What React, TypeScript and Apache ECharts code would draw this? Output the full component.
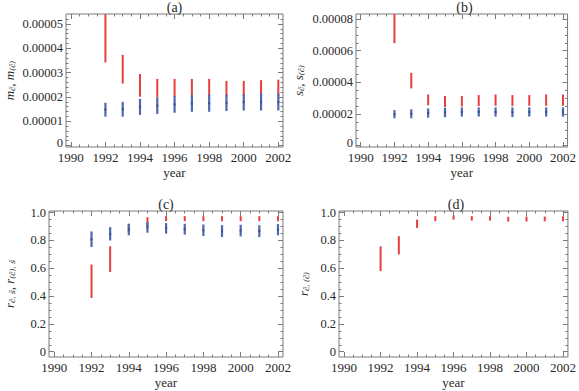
import { useEffect, useRef } from "react";
import * as echarts from "echarts";

// Survey years with an estimate interval per year
const years = [1992, 1993, 1994, 1995, 1996, 1997, 1998, 1999, 2000, 2001, 2002];

// (a) m_c~ (red) and m_(c~) (blue): lower / upper ends of each interval
const mRedLo = [3.42e-5, 2.55e-5, 2.01e-5, 2.0e-5, 2.01e-5, 2.04e-5, 2.04e-5, 2.04e-5, 2.04e-5, 2.04e-5, 2.04e-5];
const mRedHi = [5.6e-5, 3.73e-5, 2.94e-5, 2.74e-5, 2.74e-5, 2.74e-5, 2.74e-5, 2.66e-5, 2.66e-5, 2.69e-5, 2.71e-5];
const mBlueLo = [1.19e-5, 1.19e-5, 1.26e-5, 1.3e-5, 1.35e-5, 1.39e-5, 1.39e-5, 1.42e-5, 1.44e-5, 1.44e-5, 1.44e-5];
const mBlueHi = [1.76e-5, 1.8e-5, 1.92e-5, 1.99e-5, 2.04e-5, 2.08e-5, 2.1e-5, 2.1e-5, 2.12e-5, 2.14e-5, 2.14e-5];

// (b) s_c~ (red) and s_(c~) (blue)
const sRedLo = [6.48e-5, 3.62e-5, 2.55e-5, 2.44e-5, 2.48e-5, 2.5e-5, 2.52e-5, 2.5e-5, 2.52e-5, 2.52e-5, 2.52e-5];
const sRedHi = [8.6e-5, 4.6e-5, 3.24e-5, 3.14e-5, 3.14e-5, 3.2e-5, 3.24e-5, 3.2e-5, 3.2e-5, 3.24e-5, 3.24e-5];
const sBlueLo = [1.73e-5, 1.73e-5, 1.77e-5, 1.8e-5, 1.84e-5, 1.84e-5, 1.84e-5, 1.81e-5, 1.84e-5, 1.84e-5, 1.84e-5];
const sBlueHi = [2.25e-5, 2.3e-5, 2.36e-5, 2.4e-5, 2.42e-5, 2.42e-5, 2.42e-5, 2.42e-5, 2.42e-5, 2.42e-5, 2.42e-5];

// (c) r_c~,s~ (red) and r_(c~),s~ (blue)
const rcsRedLo = [0.387, 0.573, 0.86, 0.9, 0.939, 0.939, 0.939, 0.939, 0.939, 0.939, 0.939];
const rcsRedHi = [0.627, 0.758, 0.92, 0.968, 0.975, 0.975, 0.975, 0.975, 0.975, 0.975, 0.975];
const rcsBlueLo = [0.753, 0.8, 0.837, 0.856, 0.849, 0.842, 0.832, 0.825, 0.829, 0.825, 0.837];
const rcsBlueHi = [0.865, 0.896, 0.92, 0.932, 0.925, 0.92, 0.915, 0.91, 0.913, 0.91, 0.918];

// (d) r_c~,(c~)
const rccLo = [0.58, 0.7, 0.89, 0.939, 0.95, 0.943, 0.943, 0.936, 0.936, 0.938, 0.938];
const rccHi = [0.758, 0.831, 0.95, 0.975, 0.98, 0.975, 0.975, 0.97, 0.972, 0.972, 0.975];

// Axis ticks
const yearTicks = [1990, 1992, 1994, 1996, 1998, 2000, 2002];
const yearMinorTicks = [1990.5, 1991, 1991.5, 1992.5, 1993, 1993.5, 1994.5, 1995, 1995.5, 1996.5, 1997, 1997.5, 1998.5, 1999, 1999.5, 2000.5, 2001, 2001.5];
const mTicks = [0, 1e-5, 2e-5, 3e-5, 4e-5, 5e-5];
const mMinorTicks = [0.2e-5, 0.4e-5, 0.6e-5, 0.8e-5, 1.2e-5, 1.4e-5, 1.6e-5, 1.8e-5, 2.2e-5, 2.4e-5, 2.6e-5, 2.8e-5, 3.2e-5, 3.4e-5, 3.6e-5, 3.8e-5, 4.2e-5, 4.4e-5, 4.6e-5, 4.8e-5, 5.2e-5];
const sTicks = [0, 2e-5, 4e-5, 6e-5, 8e-5];
const sMinorTicks = [0.5e-5, 1e-5, 1.5e-5, 2.5e-5, 3e-5, 3.5e-5, 4.5e-5, 5e-5, 5.5e-5, 6.5e-5, 7e-5, 7.5e-5];
const rTicks = [0, 0.2, 0.4, 0.6, 0.8, 1.0];
const rMinorTicks = [0.05, 0.1, 0.15, 0.25, 0.3, 0.35, 0.45, 0.5, 0.55, 0.65, 0.7, 0.75, 0.85, 0.9, 0.95];

const SERIF = "Liberation Serif";
const SUB_SERIF = "DejaVu Serif";
const INK = "#2a2a2a";
const FRAME = "#7a7a7a";
const RED = "#e5403e";
const BLUE = "#5068b2";
const BLUE_DARK = "#3a4f90";

type Panel = {
  title: string;
  left: number;
  top: number;
  width: number;
  height: number;
  yMin: number;
  yMax: number;
  yTicks: number[];
  yMinor: number[];
  yFmt: (v: number) => string;
  yName: string;
  yNameGap: number;
};

// In the top row the zero label sits right above the first year label,
// so it is lifted a little through a padded rich style.
const panels: Panel[] = [
  {
    title: "(a)", left: 66, top: 14, width: 217, height: 133,
    yMin: -5.8e-7, yMax: 5.41e-5, yTicks: mTicks, yMinor: mMinorTicks,
    yFmt: (v) => (v === 0 ? "{z|0}" : v.toFixed(5)),
    yName: "{i|m}{s|c\u0303}{i|, m}{s|(c\u0303)}", yNameGap: 50,
  },
  {
    title: "(b)", left: 356, top: 14, width: 217, height: 133,
    yMin: -8.2e-7, yMax: 8.32e-5, yTicks: sTicks, yMinor: sMinorTicks,
    yFmt: (v) => (v === 0 ? "{z|0}" : v.toFixed(5)),
    yName: "{i|s}{s|c\u0303}{i|, s}{s|(c\u0303)}", yNameGap: 51,
  },
  {
    title: "(c)", left: 49, top: 211, width: 234, height: 146,
    yMin: -0.038, yMax: 1.012, yTicks: rTicks, yMinor: rMinorTicks,
    yFmt: (v) => (v === 0 ? "0" : v.toFixed(1)),
    yName: "{i|r}{s|c\u0303, s\u0303}{i|, r}{s|(c\u0303), s\u0303}", yNameGap: 33,
  },
  {
    title: "(d)", left: 339, top: 211, width: 234, height: 146,
    yMin: -0.038, yMax: 1.012, yTicks: rTicks, yMinor: rMinorTicks,
    yFmt: (v) => (v === 0 ? "0" : v.toFixed(1)),
    yName: "{i|r}{s|c\u0303, (c\u0303)}", yNameGap: 29,
  },
];

const X_MIN = 1989.72;
const X_MAX = 2002.27;

const bars = (lo: number[], hi: number[]) => years.map((y, i) => [y, lo[i], hi[i]]);

function errorBars(g: number, data: number[][], color: string, width: number, centre?: string) {
  return {
    type: "custom",
    xAxisIndex: g * 4,
    yAxisIndex: g * 4,
    clip: true,
    data,
    renderItem: (_params: any, api: any) => {
      const x = api.value(0);
      const lo = api.value(1);
      const hi = api.value(2);
      const a = api.coord([x, lo]);
      const b = api.coord([x, hi]);
      const children: any[] = [
        {
          type: "line",
          shape: { x1: a[0], y1: a[1], x2: b[0], y2: b[1] },
          style: { stroke: color, lineWidth: width },
        },
      ];
      if (centre) {
        const c = api.coord([x, (lo + hi) / 2]);
        children.push({
          type: "rect",
          shape: { x: c[0] - 1, y: c[1] - 1, width: 2, height: 2 },
          style: { fill: centre },
        });
      }
      return { type: "group", children };
    },
  };
}

function tickAxis(
  g: number,
  position: string,
  min: number,
  max: number,
  ticks: number[],
  length: number,
  extra: any = {}
) {
  return {
    type: "value",
    gridIndex: g,
    position,
    min,
    max,
    axisLine: { show: false, onZero: false },
    splitLine: { show: false },
    axisTick: {
      show: true,
      inside: true,
      length,
      customValues: ticks,
      lineStyle: { color: FRAME, width: 1 },
    },
    axisLabel: { show: false },
    ...extra,
  };
}

export default function App() {
  const ref = useRef<HTMLDivElement>(null);

  useEffect(() => {
    if (!ref.current) return;
    const chart = echarts.init(ref.current, undefined, { renderer: "svg" });

    const labelStyle = { fontFamily: SERIF, fontSize: 13, color: INK };

    const grid = panels.map((p) => ({
      left: p.left,
      top: p.top,
      width: p.width,
      height: p.height,
      show: true,
      borderColor: FRAME,
      borderWidth: 1,
      backgroundColor: "transparent",
    }));

    const xAxis: any[] = [];
    const yAxis: any[] = [];
    panels.forEach((p, g) => {
      xAxis.push(
        tickAxis(g, "bottom", X_MIN, X_MAX, yearTicks, 5, {
          axisLabel: {
            show: true,
            customValues: yearTicks,
            margin: 5,
            lineHeight: 10,
            formatter: (v: number) => String(Math.round(v)),
            ...labelStyle,
          },
          name: "year",
          nameLocation: "middle",
          nameGap: 19,
          nameTextStyle: labelStyle,
        }),
        tickAxis(g, "bottom", X_MIN, X_MAX, yearMinorTicks, 2.5),
        tickAxis(g, "top", X_MIN, X_MAX, yearTicks, 5),
        tickAxis(g, "top", X_MIN, X_MAX, yearMinorTicks, 2.5)
      );
      yAxis.push(
        tickAxis(g, "left", p.yMin, p.yMax, p.yTicks, 5, {
          axisLabel: {
            show: true,
            customValues: p.yTicks,
            margin: 3,
            lineHeight: 9,
            formatter: p.yFmt,
            ...labelStyle,
            fontSize: 12.5,
            rich: {
              z: {
                fontFamily: SERIF,
                fontSize: 12.5,
                color: INK,
                lineHeight: 9,
                padding: [0, 0, 5, 0],
              },
            },
          },
          name: p.yName,
          nameLocation: "middle",
          nameGap: p.yNameGap,
          nameTextStyle: {
            ...labelStyle,
            rich: {
              i: { fontFamily: SERIF, fontStyle: "italic", fontSize: 13, color: INK },
              s: { fontFamily: SUB_SERIF, fontStyle: "italic", fontSize: 7.5, color: INK, verticalAlign: "bottom" },
            },
          },
        }),
        tickAxis(g, "left", p.yMin, p.yMax, p.yMinor, 2.5),
        tickAxis(g, "right", p.yMin, p.yMax, p.yTicks, 5),
        tickAxis(g, "right", p.yMin, p.yMax, p.yMinor, 2.5)
      );
    });

    const title = panels.map((p) => ({
      text: p.title,
      left: p.left + p.width / 2,
      top: p.top - 14,
      textAlign: "center",
      padding: 0,
      textStyle: { fontFamily: SERIF, fontSize: 14, fontWeight: "normal", color: INK },
    }));

    const series = [
      errorBars(0, bars(mRedLo, mRedHi), RED, 2),
      errorBars(0, bars(mBlueLo, mBlueHi), BLUE, 2.2, BLUE_DARK),
      errorBars(1, bars(sRedLo, sRedHi), RED, 2),
      errorBars(1, bars(sBlueLo, sBlueHi), BLUE, 2.2, BLUE_DARK),
      errorBars(2, bars(rcsRedLo, rcsRedHi), RED, 2),
      errorBars(2, bars(rcsBlueLo, rcsBlueHi), BLUE, 2.2, BLUE_DARK),
      errorBars(3, bars(rccLo, rccHi), RED, 2),
    ];

    chart.setOption({
      animation: false,
      backgroundColor: "#ffffff",
      title,
      grid,
      xAxis,
      yAxis,
      series,
    });

    return () => chart.dispose();
  }, []);

  return (
    <div
      ref={ref}
      style={{ position: "fixed", left: 0, top: 0, width: 579, height: 391 }}
    />
  );
}
